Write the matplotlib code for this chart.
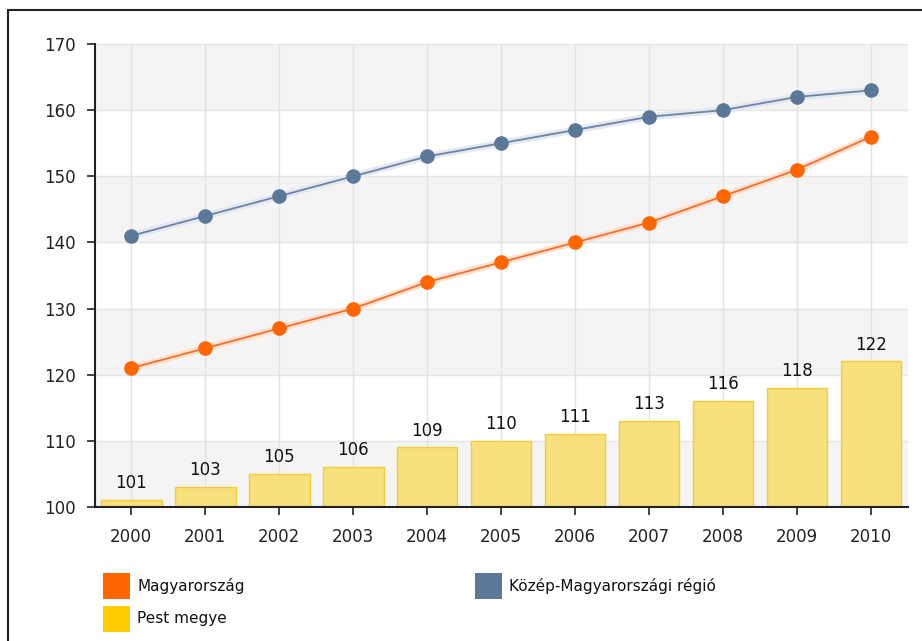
import matplotlib
matplotlib.use("Agg")
import matplotlib.pyplot as plt
from matplotlib.patches import Rectangle
import numpy as np

years = ["2000", "2001", "2002", "2003", "2004", "2005", "2006", "2007", "2008", "2009", "2010"]
magyarorszag = [121, 124, 127, 130, 134, 137, 140, 143, 147, 151, 156]
kozep = [141, 144, 147, 150, 153, 155, 157, 159, 160, 162, 163]
pest = [101, 103, 105, 106, 109, 110, 111, 113, 116, 118, 122]
y_ticks = [100, 110, 120, 130, 140, 150, 160, 170]

plt.rcParams["font.family"] = ["DejaVu Sans"]

W, H = 922, 641
fig = plt.figure(figsize=(W / 100, H / 100), dpi=100)
fig.patch.set_facecolor("white")

# outer frame (only top/left visible)
fig.patches.append(Rectangle((8 / W, -0.1), 1.2, (H - 10) / H + 0.1, transform=fig.transFigure,
                             fill=False, edgecolor="#222222", linewidth=1.5))

ax = fig.add_axes([95 / W, (H - 507) / H, (908 - 95) / W, (507 - 44) / H])
x = np.arange(len(years))
ax.set_xlim(-0.49, 10.5)
ax.set_ylim(100, 170)

# alternating bands
for i, lo in enumerate(y_ticks[:-1]):
    if i % 2 == 0:
        ax.axhspan(lo, lo + 10, color="#f4f4f4", zorder=0, lw=0)
for t in y_ticks[1:]:
    ax.axhline(t, color="#e4e4e4", lw=1, zorder=0.5)
for xi in x:
    ax.axvline(xi, color="#e2e2e2", lw=1, zorder=0.5)

ax.bar(x, [v - 100 for v in pest], bottom=100, width=0.82, color="#f8e07c",
       edgecolor="#f2cf3a", linewidth=1, zorder=2)
for xi, v in zip(x, pest):
    ax.text(xi, v + 1.2, str(v), ha="center", va="bottom", fontsize=12, color="#111111", zorder=5)

ax.plot(x, magyarorszag, color="#ffe0cc", lw=5, zorder=2.8, solid_capstyle="round")
ax.plot(x, kozep, color="#e2e8f0", lw=5, zorder=2.8, solid_capstyle="round")
ax.plot(x, magyarorszag, color="#f07030", lw=1.3, zorder=3,
        marker="o", markersize=9.5, markerfacecolor="#ff6600", markeredgecolor="#ff6600")
ax.plot(x, kozep, color="#6d84a2", lw=1.3, zorder=3,
        marker="o", markersize=9.5, markerfacecolor="#5b7899", markeredgecolor="#5b7899")

ax.set_xticks(x)
ax.set_xticklabels(years, fontsize=12, color="#222222")
ax.set_yticks(y_ticks)
ax.set_yticklabels([str(t) for t in y_ticks], fontsize=12, color="#222222")
ax.tick_params(axis="both", direction="out", length=6, width=1.2, color="#222222")
ax.tick_params(axis="x", pad=9)
ax.tick_params(axis="y", pad=8)
for s in ["top", "right"]:
    ax.spines[s].set_visible(False)
for s in ["left", "bottom"]:
    ax.spines[s].set_color("#222222")
    ax.spines[s].set_linewidth(1.5)

# legend
def legend_item(px, py, color, label):
    fig.patches.append(Rectangle((px / W, (H - py - 26) / H), 27 / W, 26 / H,
                                 transform=fig.transFigure, facecolor=color, edgecolor="none"))
    fig.text((px + 34) / W, (H - py - 13) / H, label, fontsize=11, va="center", ha="left",
             color="#111111")

legend_item(103, 573, "#ff6600", "Magyarország")
legend_item(103, 606, "#ffcc00", "Pest megye")
legend_item(475, 573, "#5b7899", "Közép-Magyarországi régió")

fig.savefig("out.png", dpi=100)
